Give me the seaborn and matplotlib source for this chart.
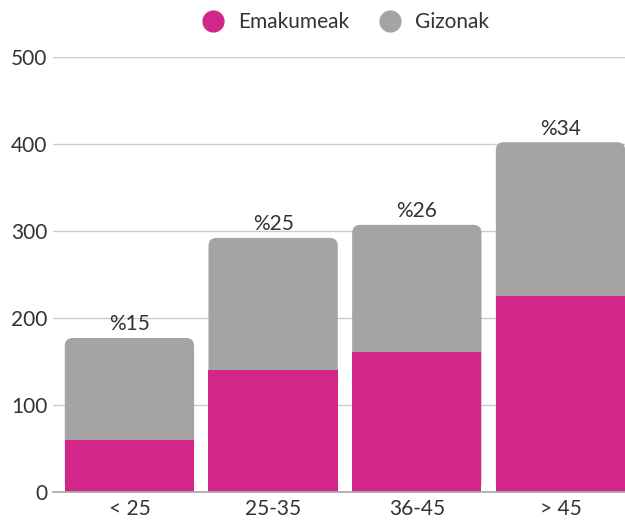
import matplotlib
matplotlib.use("Agg")
import matplotlib.pyplot as plt
import seaborn as sns
import pandas as pd
from matplotlib.patches import FancyBboxPatch
from matplotlib.lines import Line2D

# data
adin_taldeak = ["< 25", "25-35", "36-45", "> 45"]
emakumeak = [60, 140, 161, 225]
gizonak = [117, 152, 146, 177]
ehunekoak = ["%15", "%25", "%26", "%34"]

kolore_em = "#D2268A"
kolore_giz = "#A4A4A4"
testu_kolore = "#333333"

guztira = [e + g for e, g in zip(emakumeak, gizonak)]
df = pd.DataFrame({"taldea": adin_taldeak, "emakumeak": emakumeak, "guztira": guztira})

sns.set_theme(style="white")
plt.rcParams["font.family"] = ["Lato", "DejaVu Sans"]

fig = plt.figure(figsize=(6.25, 5.21), dpi=100)
ax = fig.add_axes([0.0848, 0.0557, 0.915, 0.835])

# gray bars (total), then magenta on top of them at the bottom
sns.barplot(data=df, x="taldea", y="guztira", color=kolore_giz, width=0.9,
            saturation=1, linewidth=0, ax=ax)
n_giz = len(ax.patches)
sns.barplot(data=df, x="taldea", y="emakumeak", color=kolore_em, width=0.9,
            saturation=1, linewidth=0, ax=ax)

ax.set_xlim(-0.532, 3.448)
ax.set_ylim(0, 500)

# rounded top corners for the gray bars
x_px = 572 / 3.98
y_px = 435 / 500
r = 8 / x_px
for p in ax.patches[:n_giz]:
    x, y = p.get_x(), p.get_y()
    w, h = p.get_width(), p.get_height()
    p.set_visible(False)
    fb = FancyBboxPatch((x, y), w, h,
                        boxstyle=f"round,pad=0,rounding_size={r}",
                        mutation_aspect=x_px / y_px,
                        facecolor=kolore_giz, edgecolor="none", zorder=1.5)
    ax.add_patch(fb)
for p in ax.patches[n_giz:2 * n_giz]:
    p.set_zorder(2)
    p.set_edgecolor("none")

for i, (t, lab) in enumerate(zip(guztira, ehunekoak)):
    ax.text(i, t + 4, lab, ha="center", va="bottom", fontsize=15,
            color=testu_kolore)

ax.set_xlabel("")
ax.set_ylabel("")
ax.set_yticks([0, 100, 200, 300, 400, 500])
ax.yaxis.grid(True, color="#CCCCCC", linewidth=1)
ax.set_axisbelow(True)
ax.tick_params(axis="both", length=0, labelsize=15, colors=testu_kolore)
ax.tick_params(axis="y", pad=4)
ax.tick_params(axis="x", pad=5)
for s in ["top", "right", "left"]:
    ax.spines[s].set_visible(False)
ax.spines["bottom"].set_color("#AAAAAA")

handles = [Line2D([], [], marker="o", linestyle="", markersize=15,
                  markerfacecolor=kolore_em, markeredgecolor=kolore_em),
           Line2D([], [], marker="o", linestyle="", markersize=15,
                  markerfacecolor=kolore_giz, markeredgecolor=kolore_giz)]
fig.legend(handles, ["Emakumeak", "Gizonak"], loc="center",
           bbox_to_anchor=(0.545, 0.958), ncol=2, frameon=False,
           fontsize=15, handletextpad=0.2, columnspacing=1.0,
           labelcolor=testu_kolore)

fig.savefig("out.png", dpi=100)
